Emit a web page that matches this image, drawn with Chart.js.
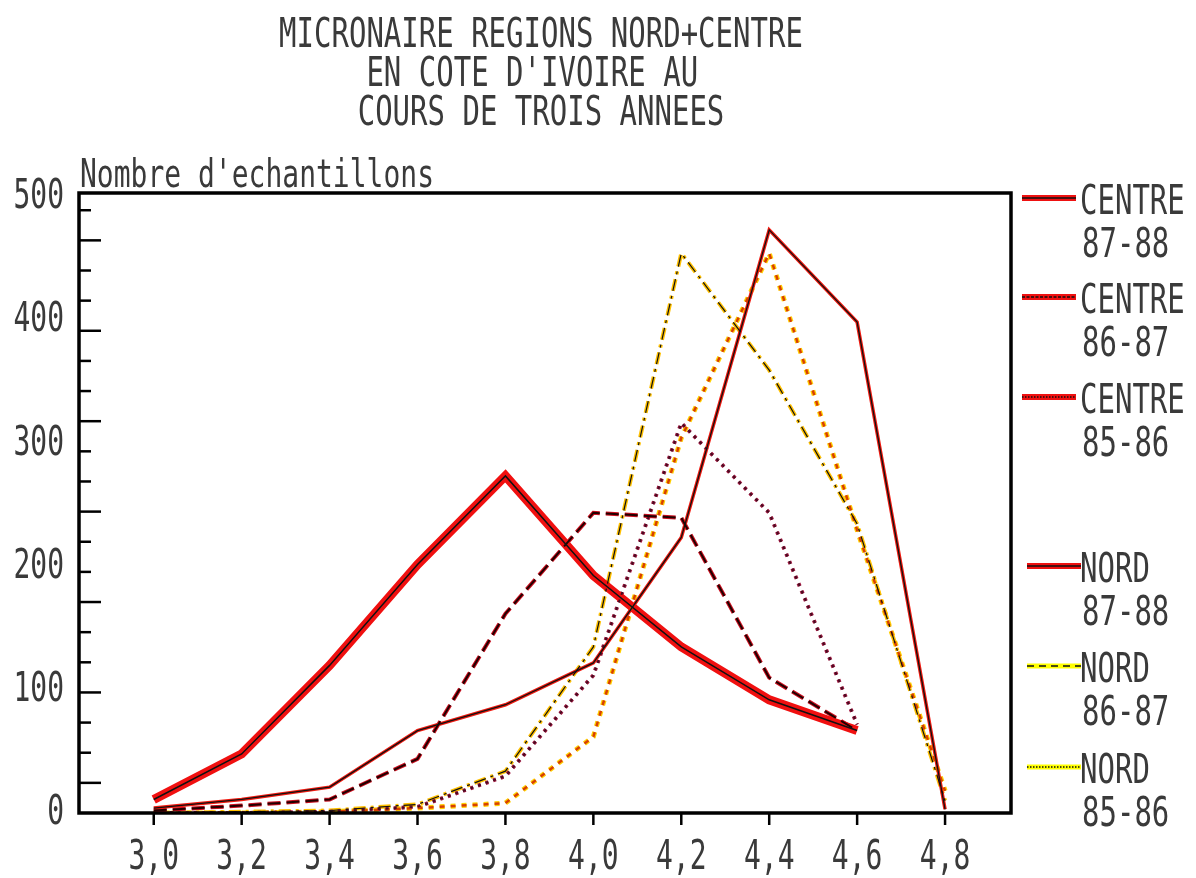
<!DOCTYPE html>
<html>
<head>
<meta charset="utf-8">
<script src="https://cdn.jsdelivr.net/npm/chart.js@4.4.1/dist/chart.umd.min.js"></script>
<style>
  body { margin: 0; background: #fff; }
  #wrap { position: relative; width: 1196px; height: 878px; overflow: hidden; }
  canvas { position: absolute; left: 0; top: 0; }
  .txt {
    position: absolute;
    font-family: "DejaVu Sans Mono", monospace;
    font-size: 29px;
    color: #3a3a3a;
    white-space: pre;
    line-height: 1;
    transform: scaleY(1.42);
  }
  .title { left: 0; width: 1082px; text-align: center; }
  .legend svg { position: absolute; }
</style>
</head>
<body>
<div id="wrap">
  <canvas id="microChart" width="1196" height="878"></canvas>
  <div class="txt title" style="top:19px">MICRONAIRE REGIONS NORD+CENTRE</div>
  <div class="txt title" style="top:58px">EN COTE D'IVOIRE AU </div>
  <div class="txt title" style="top:97px">COURS DE TROIS ANNEES</div>
  <div class="txt" style="left:80px; top:160px; font-size:28px">Nombre d'echantillons</div>
  <div id="legend" class="legend"></div>
</div>
<script>
// Micronaire classes (x) and sample counts per series
const microns = [3.0, 3.2, 3.4, 3.6, 3.8, 4.0, 4.2, 4.4, 4.6, 4.8];
const xTickLabels = ["3,0", "3,2", "3,4", "3,6", "3,8", "4,0", "4,2", "4,4", "4,6", "4,8"];
const yTickValues = [0, 100, 200, 300, 400, 500];
const yTickLabels = ["0", "100", "200", "300", "400", "500"];

const centre8788 = [11, 48, 120, 202, 274, 193, 135, 92, 67, null];
const centre8687 = [2, 6, 11, 44, 162, 244, 240, 110, 67, null];
const centre8586 = [0, 0, 1, 5, 30, 112, 317, 244, 72, null];
const nord8788 = [4, 11, 21, 67, 88, 122, 224, 474, 399, 3];
const nord8687 = [0, 1, 2, 7, 34, 135, 455, 360, 235, 10];
const nord8586 = [0, 0, 1, 4, 8, 62, 305, 455, 230, 18];

const toPoints = (values) => microns.map((m, i) => ({ x: m, y: values[i] }));

// each series = coloured underlay + dark overlay (overlay drawn on top, order 0)
function pair(label, values, under, over) {
  const base = { data: toPoints(values), pointRadius: 0, tension: 0, spanGaps: false, fill: false };
  return [
    Object.assign({}, base, { label: label, order: 1 }, under),
    Object.assign({}, base, { label: label + " (trait)", order: 0 }, over),
  ];
}

const datasets = [
  ...pair("CENTRE 87-88", centre8788,
    { borderColor: "#f01010", borderWidth: 9 },
    { borderColor: "#111", borderWidth: 1.5 }),
  ...pair("NORD 87-88", nord8788,
    { borderColor: "#f01a10", borderWidth: 3.5 },
    { borderColor: "#111", borderWidth: 1.3 }),
  ...pair("CENTRE 86-87", centre8687,
    { borderColor: "#cc1020", borderWidth: 4, borderDash: [13, 6] },
    { borderColor: "#220000", borderWidth: 2, borderDash: [13, 6] }),
  ...pair("CENTRE 85-86", centre8586,
    { borderColor: "#a01840", borderWidth: 4, borderDash: [3, 5] },
    { borderColor: "#4a0a20", borderWidth: 2, borderDash: [3, 5] }),
  ...pair("NORD 86-87", nord8687,
    { borderColor: "#ffc000", borderWidth: 4, borderDash: [12, 5, 3, 5] },
    { borderColor: "#111", borderWidth: 1.2, borderDash: [12, 5, 3, 5] }),
  ...pair("NORD 85-86", nord8586,
    { borderColor: "#ffd000", borderWidth: 5, borderDash: [5, 6] },
    { borderColor: "#d84000", borderWidth: 2.5, borderDash: [5, 6] }),
];

// frame, inward y ticks, x ticks and stretched tick labels
const axesPlugin = {
  id: "axesPlugin",
  afterDraw(chart) {
    const { ctx, chartArea: a, scales: { x, y } } = chart;
    ctx.save();
    ctx.strokeStyle = "#000";
    ctx.lineWidth = 3.5;
    ctx.strokeRect(a.left, a.top, a.right - a.left, a.bottom - a.top);

    ctx.lineWidth = 2.5;
    for (let k = 1; k * 24.5 < 500; k++) {
      const py = y.getPixelForValue(k * 24.5);
      const len = k % 3 === 1 ? 22 : 12;
      ctx.beginPath();
      ctx.moveTo(a.left, py);
      ctx.lineTo(a.left + len, py);
      ctx.stroke();
    }
    microns.forEach((m) => {
      const px = x.getPixelForValue(m);
      ctx.beginPath();
      ctx.moveTo(px, a.bottom);
      ctx.lineTo(px, a.bottom + 12);
      ctx.stroke();
    });

    ctx.fillStyle = "#3a3a3a";
    ctx.font = '28px "DejaVu Sans Mono"';
    ctx.textBaseline = "middle";
    ctx.textAlign = "right";
    yTickValues.forEach((v, i) => {
      ctx.save();
      ctx.translate(64, y.getPixelForValue(v));
      ctx.scale(1, 1.45);
      ctx.fillText(yTickLabels[i], 0, 0);
      ctx.restore();
    });
    ctx.textAlign = "center";
    microns.forEach((m, i) => {
      ctx.save();
      ctx.translate(x.getPixelForValue(m), 858);
      ctx.scale(1, 1.45);
      ctx.fillText(xTickLabels[i], 0, 0);
      ctx.restore();
    });
    ctx.restore();
  },
};

new Chart(document.getElementById("microChart"), {
  type: "line",
  data: { datasets: datasets },
  options: {
    responsive: false,
    animation: false,
    layout: { padding: { left: 79, right: 185, top: 193, bottom: 65 } },
    plugins: { legend: { display: false }, tooltip: { enabled: false } },
    scales: {
      x: { type: "linear", min: 2.83, max: 4.95, display: false },
      y: { type: "linear", min: 0, max: 504, display: false },
    },
  },
  plugins: [axesPlugin],
});

// legend on the right (two lines of text per entry)
const legendItems = [
  { name: "CENTRE", years: "87-88", band: "#ee1111", dash: "", top: 198, x: 1022 },
  { name: "CENTRE", years: "86-87", band: "#ee1111", dash: "3 1.5", top: 297, x: 1022 },
  { name: "CENTRE", years: "85-86", band: "#ee1111", dash: "1.5 1.5", top: 397, x: 1022 },
  { name: "NORD", years: "87-88", band: "#ee1111", dash: "", top: 566, x: 1027 },
  { name: "NORD", years: "86-87", band: "#ffff00", dash: "7 5", top: 666, x: 1027 },
  { name: "NORD", years: "85-86", band: "#ffff00", dash: "1.5 1.5", top: 767, x: 1027 },
];
const legendEl = document.getElementById("legend");
legendItems.forEach((item) => {
  const bandH = item.band === "#ffff00" ? 5 : 6;
  legendEl.insertAdjacentHTML("beforeend", `
    <svg width="54" height="10" style="left:${item.x}px; top:${item.top - 5}px">
      <rect x="0" y="${5 - bandH / 2}" width="54" height="${bandH}" fill="${item.band}"/>
      <line x1="0" y1="5" x2="54" y2="5" stroke="#111" stroke-width="1.6"
        ${item.dash ? `stroke-dasharray="${item.dash}"` : ""}/>
    </svg>
    <div class="txt" style="left:1080px; top:${item.top - 12}px">${item.name}</div>
    <div class="txt" style="left:1082px; top:${item.top + 31}px">${item.years}</div>
  `);
});
</script>
</body>
</html>
